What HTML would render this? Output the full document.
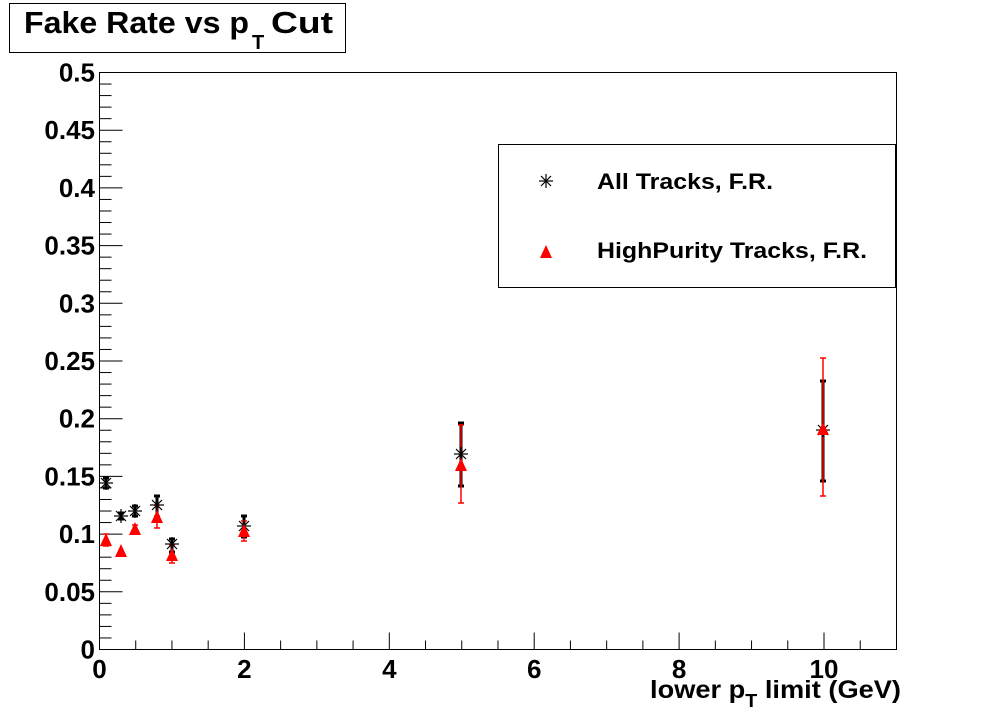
<!DOCTYPE html>
<html><head><style>body{margin:0;background:#fff}svg{display:block}</style></head><body>
<svg width="996" height="722" xmlns="http://www.w3.org/2000/svg" font-family="Liberation Sans, Arial, sans-serif" font-weight="bold">
<rect width="996" height="722" fill="#fff"/>
<rect x="9.5" y="3.5" width="336" height="49" fill="#fff" stroke="#000" stroke-width="1"/>
<text x="24" y="33" font-size="31" textLength="225" lengthAdjust="spacingAndGlyphs">Fake Rate vs p</text>
<text x="252" y="49" font-size="20">T</text>
<text x="271" y="33" font-size="31" textLength="62" lengthAdjust="spacingAndGlyphs">Cut</text>
<rect x="99.5" y="72.5" width="797" height="577" fill="none" stroke="#000" stroke-width="1"/>
<g id="ticks" stroke="#000" stroke-width="1"></g>
<g font-size="26" text-anchor="end" id="ylab"></g>
<g font-size="26" text-anchor="middle" id="xlab"></g>
<text x="650" y="698" font-size="25" textLength="251" lengthAdjust="spacingAndGlyphs">lower p<tspan font-size="18" dy="9">T</tspan><tspan dy="-9"> limit (GeV)</tspan></text>
<rect x="498.5" y="144.5" width="397" height="143" fill="#fff" stroke="#000"/>
<text x="597" y="189" font-size="22" textLength="176" lengthAdjust="spacingAndGlyphs">All Tracks, F.R.</text>
<text x="597" y="258" font-size="22" textLength="270" lengthAdjust="spacingAndGlyphs">HighPurity Tracks, F.R.</text>
<g id="data"></g>
</svg>
<script>
const ns="http://www.w3.org/2000/svg";
function el(p,t,a,txt){const e=document.createElementNS(ns,t);for(const k in a)e.setAttribute(k,a[k]);if(txt!==undefined)e.textContent=txt;(typeof p==="string"?document.getElementById(p):p).appendChild(e);return e;}
const X=v=>99.5+v*72.45, Y=v=>649.5-v*1154;
for(let i=0;i<=50;i++){const y=Y(i/100);const L=i%5==0?23:12;el("ticks","line",{x1:99.5,x2:99.5+L,y1:y,y2:y});}
const ylabs=["0","0.05","0.1","0.15","0.2","0.25","0.3","0.35","0.4","0.45","0.5"];
ylabs.forEach((s,i)=>el("ylab","text",{x:95,y:Y(i*0.05)+9},s));
for(let i=0;i<=21;i++){const x=X(i*0.5);const L=i%4==0?17:9;el("ticks","line",{x1:x,x2:x,y1:649.5,y2:649.5-L});}
[0,2,4,6,8,10].forEach(v=>el("xlab","text",{x:X(v),y:678},String(v)));
function star(x,y){const g=el("data","g",{stroke:"#000","stroke-width":1.2});const r=7;
 el(g,"line",{x1:x-r,x2:x+r,y1:y,y2:y});el(g,"line",{x1:x,x2:x,y1:y-r,y2:y+r});
 el(g,"line",{x1:x-5,x2:x+5,y1:y-5,y2:y+5});el(g,"line",{x1:x-5,x2:x+5,y1:y+5,y2:y-5});}
function tri(x,y){el("data","polygon",{points:`${x-6},${y+6} ${x+6},${y+6} ${x},${y-7}`,fill:"#f00"});}
function err(x,y1,y2,c,w){el("data","line",{x1:x,x2:x,y1:y1,y2:y2,stroke:c,"stroke-width":w});
 el("data","line",{x1:x-3,x2:x+3,y1:y1,y2:y1,stroke:c,"stroke-width":w});el("data","line",{x1:x-3,x2:x+3,y1:y2,y2:y2,stroke:c,"stroke-width":w});}
const all=[[106,483,478,488],[121,516,513,519],[135,511,506,516],[157,505,496,517],[172,544,539,552],[244,526,516,537],[461,454,423,486],[823,430,381,481]];
const hp=[[106,540,534,546],[121,551,551,551],[135,529,525,533],[157,517,505,528],[172,555,545,563],[244,531,521,541],[461,465,425,503],[823,429,358,496]];
all.forEach(p=>{err(p[0],p[2],p[3],"#000",3);});
hp.forEach(p=>{if(p[3]>p[2])err(p[0],p[2],p[3],"#f00",1.5);});
all.forEach(p=>star(p[0],p[1]));
hp.forEach(p=>tri(p[0],p[1]));
star(546,181);tri(546,252);
</script>
</body></html>
